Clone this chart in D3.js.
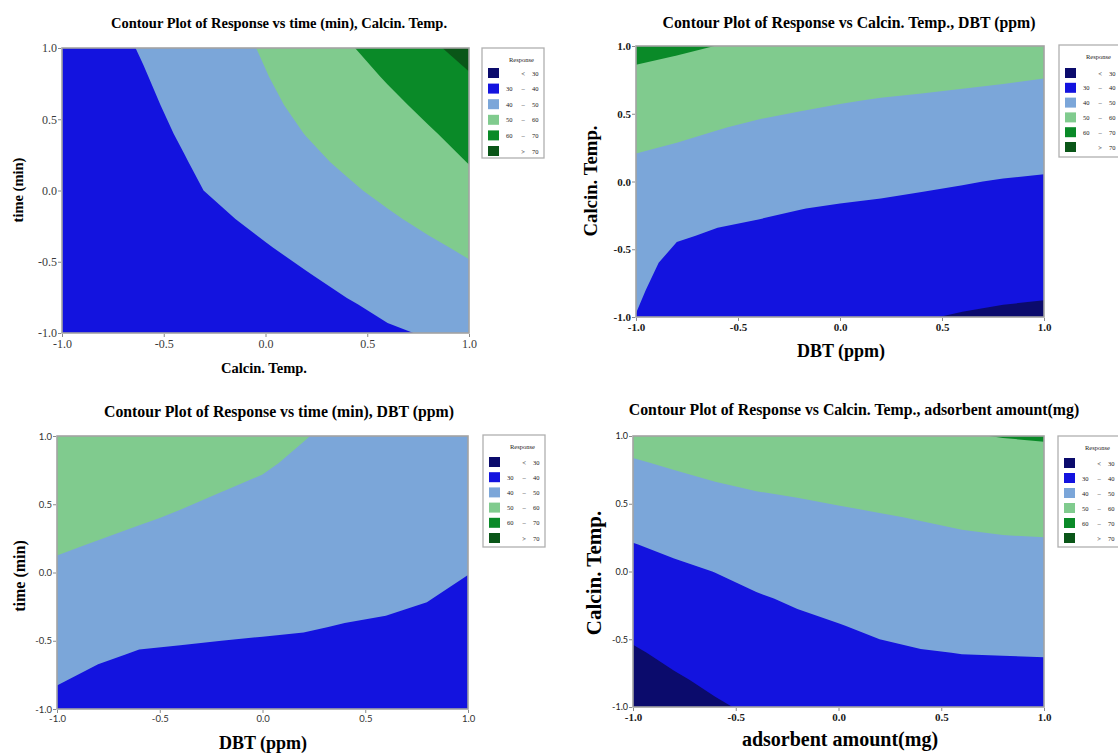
<!DOCTYPE html>
<html>
<head>
<meta charset="utf-8">
<script src="https://cdn.jsdelivr.net/npm/d3@7"></script>
<style>
  body { margin: 0; background: #fff; }
  svg { display: block; }
</style>
</head>
<body>
<svg id="chart" width="1118" height="754"></svg>
<script>
// Response bands shared by all four contour panels
const thresholds = [30, 40, 50, 60, 70];
const bandColors = ["#0b0b6c", "#1313df", "#7ba6d9", "#80cb8e", "#0a8a28", "#0a5618"];
const legendLow  = ["", "30", "40", "50", "60", ""];
const legendSign = ["<", "\u2013", "\u2013", "\u2013", "\u2013", ">"];
const legendHigh = ["30", "40", "50", "60", "70", "70"];

// Coded factor levels of the response grid (both axes), and the axis ticks
const gridLevels = [-1, -0.8, -0.6, -0.4, -0.2, 0, 0.2, 0.4, 0.6, 0.8, 1];
const tickValues = [-1, -0.5, 0, 0.5, 1];

// Response grids: rows run from the top (+1) to the bottom (-1) of the plot,
// columns from the left (-1) to the right (+1) factor level.

// time (min) (rows) vs Calcin. Temp. (columns)
const timeVsCalcin = [
  [34.5, 37.5, 40.6, 44.0, 47.3, 50.8, 54.9, 59.1, 63.6, 68.3, 73.2],
  [33.6, 36.6, 39.6, 42.9, 46.3, 49.7, 53.3, 56.9, 60.7, 65.0, 69.3],
  [33.1, 35.9, 38.7, 41.8, 45.1, 48.5, 51.8, 55.0, 58.2, 61.8, 65.9],
  [32.8, 35.4, 38.0, 40.7, 43.9, 47.0, 50.2, 53.2, 56.2, 59.2, 62.7],
  [32.5, 34.9, 37.3, 39.7, 42.5, 45.4, 48.3, 51.2, 54.2, 57.2, 60.2],
  [32.3, 34.5, 36.7, 38.9, 41.2, 43.8, 46.3, 48.9, 51.7, 54.8, 58.0],
  [31.4, 33.4, 35.4, 37.4, 39.4, 41.7, 44.1, 46.6, 49.0, 51.7, 54.5],
  [30.6, 32.4, 34.2, 36.0, 37.8, 39.6, 41.8, 44.1, 46.4, 48.7, 51.2],
  [30.6, 32.1, 33.6, 35.1, 36.6, 38.1, 39.6, 41.7, 43.9, 46.1, 48.3],
  [30.4, 31.7, 33.0, 34.3, 35.6, 36.9, 38.2, 39.5, 41.3, 43.4, 45.5],
  [30.5, 31.6, 32.7, 33.8, 34.9, 36.0, 37.1, 38.2, 39.3, 40.4, 42.4]
];

// Calcin. Temp. (rows) vs DBT (ppm) (columns)
const calcinVsDbt = [
  [62.5, 61.2, 59.9, 58.9, 57.9, 57.0, 56.3, 55.7, 55.1, 54.5, 53.9],
  [58.9, 57.8, 56.7, 55.5, 54.6, 53.7, 53.0, 52.4, 51.8, 51.2, 50.6],
  [55.9, 54.7, 53.5, 52.2, 51.2, 50.4, 49.7, 49.2, 48.7, 48.2, 47.6],
  [52.9, 51.6, 50.3, 49.1, 48.3, 47.5, 47.0, 46.4, 45.9, 45.3, 44.8],
  [49.9, 48.8, 47.5, 46.3, 45.6, 44.8, 44.2, 43.7, 43.1, 42.5, 41.9],
  [48.3, 46.1, 44.6, 43.6, 42.8, 42.1, 41.5, 40.9, 40.3, 39.7, 39.3],
  [46.6, 43.6, 41.7, 40.8, 40.1, 39.5, 39.1, 38.6, 38.1, 37.6, 37.1],
  [45.0, 40.6, 39.3, 38.8, 38.3, 37.6, 37.1, 36.5, 36.0, 35.4, 35.0],
  [42.5, 38.0, 37.6, 37.1, 36.4, 35.7, 35.1, 34.5, 33.8, 33.3, 32.9],
  [41.2, 36.2, 35.8, 35.4, 34.6, 33.8, 33.2, 32.4, 31.7, 31.1, 30.8],
  [39.8, 34.5, 34.0, 33.7, 32.7, 31.9, 31.2, 30.3, 29.6, 29.1, 28.7]
];

// time (min) (rows) vs DBT (ppm) (columns)
const timeVsDbt = [
  [59.2, 58.5, 57.2, 55.4, 53.8, 52.4, 50.3, 48.4, 47.5, 46.7, 45.4],
  [57.1, 56.3, 55.0, 53.4, 52.0, 50.7, 48.9, 47.2, 46.4, 45.6, 44.3],
  [55.0, 54.1, 52.8, 51.4, 50.1, 49.0, 47.4, 45.9, 45.2, 44.5, 43.3],
  [52.9, 51.8, 50.6, 49.4, 48.3, 47.3, 46.0, 44.7, 44.1, 43.4, 42.2],
  [50.8, 49.6, 48.4, 47.4, 46.5, 45.6, 44.6, 43.5, 43.0, 42.3, 41.2],
  [48.7, 47.4, 46.2, 45.4, 44.6, 43.9, 43.1, 42.3, 41.8, 41.2, 40.1],
  [46.6, 45.2, 44.0, 43.4, 42.8, 42.3, 41.7, 41.1, 40.7, 40.1, 39.0],
  [44.5, 43.0, 41.8, 41.4, 40.9, 40.6, 40.3, 39.8, 39.5, 39.0, 37.9],
  [42.4, 40.8, 39.6, 39.3, 39.1, 38.9, 38.8, 38.6, 38.4, 37.9, 36.9],
  [40.3, 38.6, 37.4, 37.3, 37.2, 37.2, 37.4, 37.4, 37.3, 36.8, 35.8],
  [38.2, 36.3, 35.2, 35.3, 35.4, 35.5, 35.9, 36.2, 36.1, 35.7, 34.8]
];

// Calcin. Temp. (rows) vs adsorbent amount (mg) (columns)
const calcinVsAdsorbent = [
  [52.6, 53.9, 55.0, 55.9, 56.3, 56.8, 57.3, 58.6, 59.6, 60.2, 60.6],
  [49.4, 50.8, 52.0, 53.0, 53.5, 54.1, 54.7, 55.8, 56.8, 57.4, 57.8],
  [46.2, 47.7, 49.1, 50.1, 50.7, 51.4, 52.1, 53.1, 53.9, 54.5, 54.9],
  [42.9, 44.6, 46.1, 47.3, 48.2, 48.9, 49.6, 50.3, 51.1, 51.7, 52.0],
  [39.8, 41.4, 43.1, 44.6, 45.7, 46.6, 47.4, 48.1, 48.7, 49.1, 49.3],
  [37.1, 38.7, 40.1, 41.9, 43.3, 44.3, 45.3, 46.0, 46.5, 46.9, 47.1],
  [34.5, 36.3, 37.9, 39.4, 40.8, 42.0, 43.1, 43.9, 44.4, 44.7, 44.8],
  [31.9, 34.0, 35.7, 37.3, 38.7, 39.8, 41.0, 41.8, 42.2, 42.5, 42.6],
  [29.2, 31.6, 33.5, 35.3, 36.8, 37.9, 39.0, 39.7, 40.1, 40.2, 40.3],
  [26.6, 29.2, 31.3, 33.2, 34.8, 36.1, 37.2, 37.9, 38.3, 38.4, 38.5],
  [24.0, 26.8, 29.2, 31.1, 32.9, 34.2, 35.4, 36.1, 36.5, 36.6, 36.7]
];

const SERIF = "'Liberation Serif', 'Times New Roman', serif";
const SANS = "Lato, 'Open Sans', sans-serif";

const svg = d3.select("#chart");
const fmt = d => d.toFixed(1);

const panels = [
  {
    id: "p1", grid: timeVsCalcin,
    box: { left: 62, right: 469, top: 48, bottom: 333 },
    title: "Contour Plot of Response vs time (min), Calcin. Temp.",
    titleX: 279, titleY: 28, titleSize: 14.5,
    xLabel: "Calcin. Temp.", xLabelX: 264, xLabelY: 373, xLabelSize: 14.5,
    yLabel: "time (min)", yLabelX: 23, yLabelY: 190, yLabelSize: 14.5,
    tickFont: SERIF, tickWeight: "normal", tickSize: 12, tickColor: "#3a3a3a",
    yTickFont: SERIF, yTickWeight: "normal", yTickSize: 12,
    legend: { x: 482, y: 48, w: 62, h: 110, first: 25, step: 15.6 }
  },
  {
    id: "p2", grid: calcinVsDbt,
    box: { left: 636, right: 1044, top: 46, bottom: 317 },
    title: "Contour Plot of Response vs Calcin. Temp., DBT (ppm)",
    titleX: 849, titleY: 28, titleSize: 15.8,
    xLabel: "DBT (ppm)", xLabelX: 841, xLabelY: 357, xLabelSize: 18,
    yLabel: "Calcin. Temp.", yLabelX: 597, yLabelY: 181, yLabelSize: 18.8,
    tickFont: SERIF, tickWeight: "bold", tickSize: 11, tickColor: "#1a1a1a",
    yTickFont: SERIF, yTickWeight: "bold", yTickSize: 11,
    legend: { x: 1059, y: 45, w: 70, h: 112, first: 28, step: 14.8 }
  },
  {
    id: "p3", grid: timeVsDbt,
    box: { left: 57, right: 468, top: 436, bottom: 709 },
    title: "Contour Plot of Response vs time (min), DBT (ppm)",
    titleX: 279, titleY: 417, titleSize: 15.8,
    xLabel: "DBT (ppm)", xLabelX: 263, xLabelY: 749, xLabelSize: 18,
    yLabel: "time (min)", yLabelX: 25, yLabelY: 576, yLabelSize: 16,
    tickFont: SANS, tickWeight: "normal", tickSize: 9.5, tickColor: "#333",
    yTickFont: SANS, yTickWeight: "normal", yTickSize: 9.5,
    legend: { x: 483, y: 435, w: 62, h: 112, first: 27, step: 15.2 }
  },
  {
    id: "p4", grid: calcinVsAdsorbent,
    box: { left: 633, right: 1044, top: 436, bottom: 707 },
    title: "Contour Plot of Response vs Calcin. Temp., adsorbent amount(mg)",
    titleX: 854, titleY: 415, titleSize: 15.8,
    xLabel: "adsorbent amount(mg)", xLabelX: 840, xLabelY: 746, xLabelSize: 20,
    yLabel: "Calcin. Temp.", yLabelX: 601, yLabelY: 573, yLabelSize: 21,
    tickFont: SERIF, tickWeight: "bold", tickSize: 11, tickColor: "#1a1a1a",
    yTickFont: SANS, yTickWeight: "normal", yTickSize: 9,
    legend: { x: 1058, y: 436, w: 70, h: 111, first: 27, step: 15.0 }
  }
];

function drawPanel(p) {
  const g = svg.append("g").attr("class", "panel " + p.id);
  const b = p.box;
  const x = d3.scaleLinear().domain([-1, 1]).range([b.left, b.right]);
  const y = d3.scaleLinear().domain([-1, 1]).range([b.bottom, b.top]);

  const nx = gridLevels.length, ny = p.grid.length;
  const step = gridLevels[1] - gridLevels[0];
  const top = gridLevels[gridLevels.length - 1];
  // d3.contours places sample i at grid coordinate i + 0.5
  const toX = c => gridLevels[0] + (c - 0.5) * step;
  const toY = r => top - (r - 0.5) * step;
  const projection = d3.geoTransform({
    point(cx, cy) { this.stream.point(x(toX(cx)), y(toY(cy))); }
  });
  const path = d3.geoPath(projection);

  g.append("clipPath").attr("id", "clip-" + p.id)
    .append("rect")
    .attr("x", b.left).attr("y", b.top)
    .attr("width", b.right - b.left).attr("height", b.bottom - b.top);

  const body = g.append("g").attr("clip-path", `url(#clip-${p.id})`);
  body.append("rect")
    .attr("x", b.left).attr("y", b.top)
    .attr("width", b.right - b.left).attr("height", b.bottom - b.top)
    .attr("fill", bandColors[0]);

  const contours = d3.contours()
    .size([nx, ny])
    .thresholds(thresholds)(p.grid.flat());

  body.selectAll("path")
    .data(contours)
    .join("path")
    .attr("d", path)
    .attr("fill", (d, i) => bandColors[i + 1]);

  // frame
  g.append("rect")
    .attr("x", b.left).attr("y", b.top)
    .attr("width", b.right - b.left).attr("height", b.bottom - b.top)
    .attr("fill", "none").attr("stroke", "#a3a3a3").attr("stroke-width", 1.6);

  // axes
  const xAxis = g.append("g")
    .attr("transform", `translate(0,${b.bottom + 1})`)
    .call(d3.axisBottom(x).tickValues(tickValues).tickFormat(fmt).tickSize(3).tickPadding(2));
  const yAxis = g.append("g")
    .attr("transform", `translate(${b.left - 1},0)`)
    .call(d3.axisLeft(y).tickValues(tickValues).tickFormat(fmt).tickSize(3).tickPadding(1));
  [xAxis, yAxis].forEach(a => {
    a.select(".domain").remove();
    a.selectAll(".tick line").attr("stroke", "#8a8a8a").attr("stroke-width", 1);
  });
  xAxis.selectAll("text")
    .attr("font-family", p.tickFont).attr("font-weight", p.tickWeight)
    .attr("font-size", p.tickSize).attr("fill", p.tickColor);
  yAxis.selectAll("text")
    .attr("font-family", p.yTickFont).attr("font-weight", p.yTickWeight)
    .attr("font-size", p.yTickSize).attr("fill", p.tickColor);

  // titles
  g.append("text")
    .attr("x", p.titleX).attr("y", p.titleY)
    .attr("text-anchor", "middle")
    .attr("font-family", SERIF).attr("font-weight", "bold")
    .attr("font-size", p.titleSize)
    .text(p.title);

  g.append("text")
    .attr("x", p.xLabelX).attr("y", p.xLabelY)
    .attr("text-anchor", "middle")
    .attr("font-family", SERIF).attr("font-weight", "bold")
    .attr("font-size", p.xLabelSize)
    .text(p.xLabel);

  g.append("text")
    .attr("transform", `translate(${p.yLabelX},${p.yLabelY}) rotate(-90)`)
    .attr("text-anchor", "middle")
    .attr("font-family", SERIF).attr("font-weight", "bold")
    .attr("font-size", p.yLabelSize)
    .text(p.yLabel);

  drawLegend(g, p.legend);
}

function drawLegend(g, L) {
  const lg = g.append("g").attr("class", "legend");
  lg.append("rect")
    .attr("x", L.x).attr("y", L.y).attr("width", L.w).attr("height", L.h)
    .attr("fill", "#fff").attr("stroke", "#b0b0b0").attr("stroke-width", 1.3);
  lg.append("text")
    .attr("x", L.x + 27).attr("y", L.y + 14)
    .attr("font-family", SERIF).attr("font-size", 6.5).attr("fill", "#222")
    .text("Response");
  const rows = lg.selectAll("g.row")
    .data(bandColors)
    .join("g")
    .attr("class", "row")
    .attr("transform", (d, i) => `translate(${L.x},${L.y + L.first + i * L.step})`);
  rows.append("rect")
    .attr("x", 6).attr("y", -5)
    .attr("width", 11).attr("height", 10)
    .attr("fill", d => d);
  const txt = sel => sel.attr("font-family", SERIF).attr("font-size", 6.5)
    .attr("y", 2.5).attr("fill", "#222");
  rows.append("text").call(txt).attr("x", 24).text((d, i) => legendLow[i]);
  rows.append("text").call(txt).attr("x", 41).attr("text-anchor", "middle").text((d, i) => legendSign[i]);
  rows.append("text").call(txt).attr("x", 50).text((d, i) => legendHigh[i]);
}

panels.forEach(drawPanel);
</script>
</body>
</html>
